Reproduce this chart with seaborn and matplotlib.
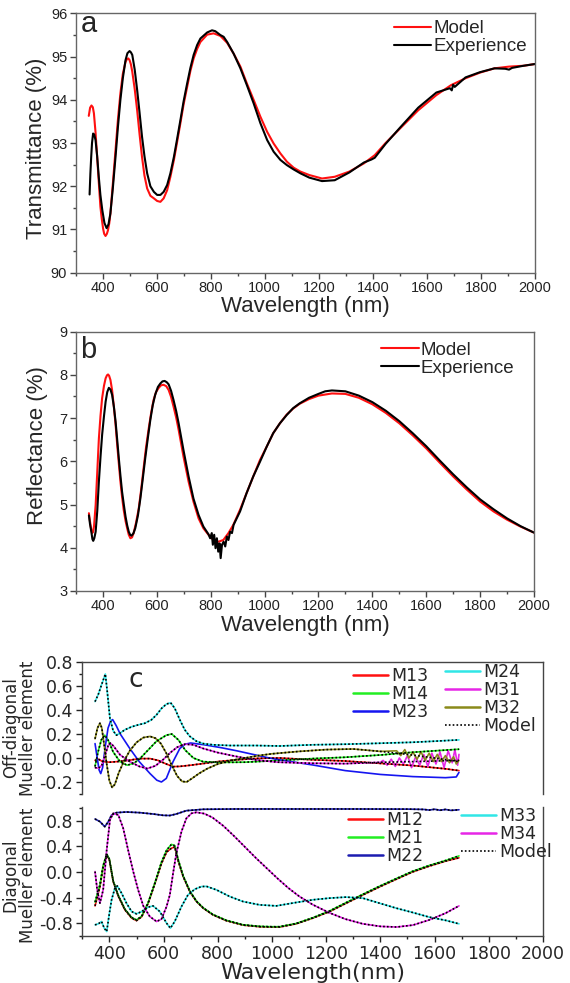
import matplotlib
matplotlib.use("Agg")
import matplotlib.pyplot as plt
from matplotlib.ticker import MultipleLocator, FixedLocator, FormatStrFormatter
from matplotlib.lines import Line2D
import pandas as pd
import seaborn as sns

# ---------------- panel a : transmittance ----------------
a_model_wl = [349, 354, 359, 364, 368, 374, 380, 386, 392, 397, 402, 406, 411, 416, 420, 425, 429, 438, 448, 457,
              466, 475, 485, 490, 495, 500, 505, 510, 519, 528, 537, 546, 555, 565, 577, 590, 602, 614, 626, 639,
              651, 664, 676, 688, 700, 713, 725, 737, 750, 762, 787, 811, 836, 861, 885, 910, 934, 959, 984, 1009,
              1033, 1058, 1082, 1107, 1132, 1165, 1212, 1259, 1313, 1367, 1407, 1447, 1501, 1568, 1635, 1689,
              1743, 1796, 1850, 1904, 1958, 2000]
a_model_T = [93.63, 93.82, 93.87, 93.83, 93.69, 93.25, 92.68, 92.10, 91.53, 91.25, 91.02, 90.90, 90.85, 90.90,
             90.98, 91.15, 91.37, 92.05, 92.84, 93.55, 94.15, 94.60, 94.88, 94.94, 94.96, 94.92, 94.82, 94.65,
             94.25, 93.76, 93.20, 92.68, 92.25, 91.95, 91.78, 91.72, 91.66, 91.64, 91.72, 91.91, 92.22, 92.61,
             93.03, 93.46, 93.90, 94.30, 94.67, 94.96, 95.18, 95.34, 95.51, 95.54, 95.48, 95.32, 95.07, 94.77,
             94.38, 94.0, 93.61, 93.26, 92.99, 92.76, 92.57, 92.43, 92.34, 92.26, 92.18, 92.22, 92.34, 92.53,
             92.72, 93.0, 93.34, 93.76, 94.11, 94.34, 94.5, 94.63, 94.73, 94.77, 94.79, 94.83]
a_exp_wl = [352, 355, 358, 361, 365, 369, 374, 380, 386, 392, 399, 407, 415, 422, 429, 438, 448, 457, 466, 475, 485,
            492, 500, 505, 510, 519, 528, 537, 546, 555, 565, 577, 590, 602, 614, 626, 639, 651, 664, 676, 688, 700,
            713, 725, 737, 750, 762, 787, 805, 817, 836, 848, 861, 885, 910, 934, 959, 984, 1009, 1033, 1058, 1082,
            1107, 1132, 1165, 1212, 1259, 1313, 1367, 1395, 1407, 1447, 1501, 1568, 1635, 1685, 1692, 1697, 1703,
            1743, 1796, 1850, 1890, 1904, 1915, 1958, 2000]
a_exp_T = [91.81, 92.30, 92.68, 93.00, 93.22, 93.20, 93.07, 92.70, 92.22, 91.80, 91.45, 91.15, 91.03, 91.12, 91.37,
           91.95, 92.68, 93.38, 94.00, 94.50, 94.92, 95.08, 95.13, 95.10, 95.04, 94.70, 94.23, 93.70, 93.15, 92.70,
           92.30, 92.00, 91.87, 91.80, 91.80, 91.87, 92.03, 92.30, 92.68, 93.10, 93.53, 93.97, 94.38, 94.74, 95.04,
           95.27, 95.42, 95.56, 95.61, 95.59, 95.50, 95.46, 95.34, 95.07, 94.73, 94.34, 93.92, 93.46, 93.07, 92.80,
           92.61, 92.49, 92.39, 92.30, 92.20, 92.12, 92.14, 92.32, 92.55, 92.62, 92.66, 92.98, 93.36, 93.82, 94.17,
           94.27, 94.22, 94.35, 94.30, 94.52, 94.64, 94.73, 94.72, 94.70, 94.74, 94.79, 94.83]

# ---------------- panel b : reflectance ----------------
b_model_wl = [348, 351, 354, 357, 360, 363, 367, 373, 379, 385, 391, 397, 404, 410, 415, 419, 423, 428, 434, 440,
              447, 453, 459, 465, 471, 477, 484, 490, 496, 502, 508, 514, 523, 533, 542, 551, 560, 570, 579, 588,
              597, 607, 616, 625, 635, 644, 653, 662, 672, 681, 699, 718, 736, 755, 773, 792, 810, 829, 847, 866,
              884, 909, 933, 958, 983, 1008, 1032, 1057, 1082, 1106, 1130, 1165, 1200, 1250, 1300, 1350, 1400,
              1450, 1500, 1550, 1600, 1650, 1700, 1750, 1800, 1850, 1900, 1950, 2000]
b_model_R = [4.80, 4.65, 4.53, 4.40, 4.34, 4.36, 4.50, 4.99, 5.75, 6.53, 7.05, 7.46, 7.75, 7.92, 7.99, 8.01, 7.98,
             7.88, 7.65, 7.30, 6.85, 6.38, 5.95, 5.53, 5.18, 4.88, 4.62, 4.45, 4.30, 4.22, 4.24, 4.34, 4.58, 4.91,
             5.35, 5.84, 6.32, 6.76, 7.12, 7.42, 7.60, 7.70, 7.76, 7.77, 7.74, 7.65, 7.49, 7.27, 7.01, 6.73, 6.11,
             5.53, 5.07, 4.68, 4.45, 4.30, 4.18, 4.14, 4.18, 4.34, 4.53, 4.88, 5.26, 5.65, 6.03, 6.34, 6.65, 6.88,
             7.08, 7.22, 7.33, 7.44, 7.52, 7.57, 7.56, 7.47, 7.32, 7.12, 6.88, 6.60, 6.30, 5.97, 5.65, 5.35, 5.07,
             4.84, 4.65, 4.49, 4.35]
b_exp_wl = [348, 352, 357, 361, 364, 368, 373, 379, 385, 391, 397, 404, 410, 416, 422, 428, 434, 441, 447, 453, 459,
            465, 471, 478, 484, 490, 496, 501, 506, 513, 520, 530, 539, 548, 557, 567, 576, 585, 594, 604, 613, 621,
            629, 637, 644, 653, 662, 672, 681, 699, 718, 736, 755, 773, 792, 798, 804, 808, 813, 818, 823, 828, 833,
            837, 842, 848, 854, 860, 866, 872, 879, 885, 909, 933, 958, 983, 1008, 1032, 1057, 1082, 1106, 1130,
            1165, 1200, 1225, 1250, 1275, 1300, 1350, 1400, 1450, 1500, 1550, 1600, 1650, 1700, 1750, 1800, 1850,
            1900, 1950, 2000]
b_exp_R = [4.75, 4.55, 4.37, 4.20, 4.16, 4.22, 4.37, 4.85, 5.53, 6.10, 6.61, 7.05, 7.38, 7.60, 7.70, 7.66, 7.54,
           7.25, 6.92, 6.50, 6.07, 5.67, 5.30, 4.98, 4.72, 4.52, 4.37, 4.30, 4.28, 4.33, 4.45, 4.75, 5.14, 5.60,
           6.07, 6.55, 6.96, 7.30, 7.54, 7.72, 7.80, 7.85, 7.86, 7.83, 7.78, 7.63, 7.42, 7.16, 6.88, 6.26, 5.65,
           5.14, 4.76, 4.49, 4.31, 4.22, 4.34, 4.07, 4.30, 3.99, 4.22, 3.91, 4.10, 3.76, 4.07, 4.14, 4.03, 4.26,
           4.18, 4.37, 4.34, 4.53, 4.84, 5.26, 5.65, 5.99, 6.34, 6.65, 6.88, 7.07, 7.23, 7.34, 7.47, 7.56, 7.62,
           7.64, 7.63, 7.62, 7.52, 7.37, 7.17, 6.93, 6.65, 6.35, 6.02, 5.70, 5.40, 5.12, 4.89, 4.68, 4.50, 4.35]

# ---------------- panel c : off-diagonal Mueller elements ----------------
m13_wl = [347, 360, 375, 400, 430, 470, 510, 550, 580, 610, 635, 660, 700, 750, 800, 870, 950, 1030, 1150, 1270,
          1400, 1520, 1640, 1690]
m13_v = [-0.02, -0.01, -0.03, -0.035, -0.03, -0.02, -0.005, -0.005, -0.02, -0.05, -0.072, -0.07, -0.06, -0.045,
         -0.03, -0.015, -0.003, 0.0, -0.015, -0.025, -0.045, -0.063, -0.09, -0.105]
m14_wl = [347, 358, 370, 383, 395, 414, 439, 465, 490, 515, 540, 574, 610, 630, 655, 680, 710, 745, 800, 900, 990,
          1070, 1150, 1270, 1400, 1520, 1690]
m14_v = [-0.07, 0.05, 0.15, 0.19, 0.15, 0.05, -0.03, -0.06, -0.045, 0.0, 0.06, 0.14, 0.19, 0.2, 0.15, 0.065, 0.0,
         -0.03, -0.037, -0.035, -0.025, -0.015, -0.005, 0.006, 0.025, 0.048, 0.073]
m23_wl = [347, 355, 362, 368, 375, 385, 395, 405, 412, 425, 440, 475, 510, 550, 575, 592, 610, 635, 660, 680, 700,
          750, 810, 870, 930, 990, 1030, 1150, 1270, 1400, 1520, 1640, 1680, 1690]
m23_v = [0.12, 0.0, -0.1, -0.13, -0.08, 0.1, 0.25, 0.31, 0.32, 0.27, 0.2, 0.08, -0.03, -0.13, -0.185, -0.2, -0.17,
         -0.03, 0.08, 0.115, 0.125, 0.11, 0.087, 0.06, 0.03, 0.0, -0.016, -0.058, -0.105, -0.137, -0.155, -0.164,
         -0.158, -0.12]
m24_wl = [347, 359, 371, 385, 392, 402, 414, 426, 439, 457, 482, 506, 531, 555, 574, 593, 611, 626, 641, 660, 678,
          697, 721, 746, 782, 844, 942, 1028, 1150, 1273, 1400, 1519, 1600, 1690]
m24_v = [0.47, 0.53, 0.61, 0.70, 0.555, 0.33, 0.226, 0.19, 0.207, 0.235, 0.26, 0.276, 0.29, 0.318, 0.36, 0.415,
         0.45, 0.46, 0.415, 0.318, 0.235, 0.18, 0.14, 0.12, 0.11, 0.104, 0.104, 0.10, 0.11, 0.115, 0.123, 0.131,
         0.14, 0.151]
m31_wl = [347, 360, 372, 385, 395, 403, 415, 440, 475, 510, 540, 570, 600, 625, 650, 678, 710, 745, 800, 870, 940,
          1020, 1150, 1270, 1400, 1520, 1690]
m31_v = [-0.08, -0.085, -0.06, 0.03, 0.1, 0.125, 0.1, 0.025, -0.03, -0.07, -0.088, -0.065, -0.01, 0.045, 0.09,
         0.115, 0.11, 0.08, 0.045, 0.012, -0.016, -0.035, -0.044, -0.047, -0.036, -0.03, -0.02]
m31_noise_wl = [1410, 1425, 1440, 1455, 1470, 1485, 1500, 1515, 1530, 1545, 1560, 1575, 1590, 1605, 1620, 1635,
                1650, 1665, 1675, 1685, 1690]
m31_noise_v = [-0.02, -0.06, -0.01, -0.07, 0.0, -0.05, 0.02, -0.08, 0.01, -0.06, 0.03, -0.07, 0.04, -0.05, 0.05,
               -0.08, 0.06, -0.04, 0.07, -0.06, 0.03]
m32_wl = [347, 356, 365, 372, 380, 390, 400, 410, 420, 435, 455, 475, 500, 525, 550, 570, 590, 610, 630, 650, 668,
          685, 705, 730, 760, 800, 850, 900, 950, 1000, 1100, 1200, 1300, 1400, 1500, 1600, 1690]
m32_v = [0.16, 0.25, 0.29, 0.25, 0.12, -0.05, -0.19, -0.245, -0.22, -0.12, -0.02, 0.06, 0.13, 0.17, 0.18, 0.165,
         0.12, 0.04, -0.06, -0.15, -0.195, -0.2, -0.17, -0.13, -0.09, -0.05, -0.02, 0.0, 0.02, 0.035, 0.055, 0.07,
         0.075, 0.055, 0.03, 0.0, -0.03]
m32_noise_wl = [1460, 1475, 1490, 1505, 1520, 1535, 1550, 1565, 1580, 1595, 1610, 1625, 1640, 1655, 1670, 1680, 1690]
m32_noise_v = [0.06, 0.02, 0.07, 0.0, 0.05, -0.01, 0.05, -0.02, 0.04, -0.03, 0.03, -0.03, 0.02, -0.04, 0.01, -0.05,
               -0.02]

# ---------------- panel c : diagonal Mueller elements ----------------
m12_wl = [347, 365, 377, 390, 400, 414, 433, 457, 482, 500, 519, 543, 568, 592, 611, 629, 641, 654, 672, 697, 721,
          746, 782, 831, 893, 954, 1000, 1028, 1089, 1151, 1212, 1273, 1335, 1396, 1458, 1519, 1580, 1642, 1690]
m12_v = [-0.53, -0.23, 0.083, 0.265, 0.187, -0.15, -0.38, -0.59, -0.72, -0.76, -0.70, -0.49, -0.18, 0.13, 0.31,
         0.37, 0.39, 0.17, -0.07, -0.31, -0.46, -0.565, -0.67, -0.76, -0.83, -0.855, -0.86, -0.86, -0.81, -0.72,
         -0.62, -0.49, -0.36, -0.235, -0.115, 0.0, 0.09, 0.17, 0.22]
m21_wl = m12_wl
m21_v = [-0.47, -0.2, 0.1, 0.28, 0.2, -0.14, -0.37, -0.58, -0.71, -0.75, -0.69, -0.48, -0.17, 0.15, 0.34, 0.43,
         0.41, 0.19, -0.06, -0.3, -0.455, -0.56, -0.665, -0.755, -0.825, -0.85, -0.855, -0.855, -0.805, -0.715,
         -0.61, -0.48, -0.35, -0.225, -0.105, 0.01, 0.1, 0.18, 0.25]
m22_wl = [347, 365, 383, 396, 408, 426, 463, 512, 561, 598, 623, 647, 684, 746, 868, 1065, 1300, 1500, 1560, 1580,
          1600, 1620, 1640, 1660, 1690]
m22_v = [0.826, 0.785, 0.706, 0.785, 0.888, 0.925, 0.935, 0.925, 0.904, 0.883, 0.88, 0.904, 0.956, 0.977, 0.982,
         0.982, 0.982, 0.98, 0.975, 0.965, 0.978, 0.962, 0.975, 0.96, 0.97]
m33_wl = [347, 359, 371, 381, 390, 400, 408, 420, 429, 445, 463, 482, 500, 519, 543, 561, 586, 611, 625, 641, 666,
          690, 715, 739, 758, 795, 844, 893, 954, 1016, 1089, 1151, 1212, 1273, 1335, 1396, 1458, 1519, 1580, 1642,
          1690]
m33_v = [-0.826, -0.81, -0.774, -0.878, -0.93, -0.644, -0.436, -0.255, -0.218, -0.332, -0.488, -0.618, -0.655,
         -0.618, -0.55, -0.53, -0.618, -0.8, -0.878, -0.774, -0.54, -0.358, -0.27, -0.229, -0.225, -0.28, -0.384,
         -0.462, -0.514, -0.53, -0.477, -0.435, -0.409, -0.393, -0.409, -0.487, -0.565, -0.633, -0.705, -0.757,
         -0.81]
m34_wl = [347, 355, 365, 377, 390, 402, 414, 433, 451, 469, 488, 506, 525, 549, 574, 592, 611, 623, 635, 647, 666,
          684, 703, 721, 750, 780, 820, 860, 900, 940, 980, 1020, 1060, 1100, 1150, 1210, 1270, 1335, 1400, 1460,
          1520, 1580, 1640, 1690]
m34_v = [0.005, -0.28, -0.488, -0.28, 0.343, 0.81, 0.914, 0.888, 0.68, 0.343, 0.005, -0.28, -0.53, -0.696, -0.774,
         -0.737, -0.54, -0.358, -0.02, 0.29, 0.63, 0.836, 0.914, 0.93, 0.91, 0.85, 0.72, 0.56, 0.39, 0.22, 0.06,
         -0.1, -0.25, -0.38, -0.51, -0.635, -0.735, -0.81, -0.85, -0.86, -0.83, -0.75, -0.645, -0.53]

x_ticks = [400, 600, 800, 1000, 1200, 1400, 1600, 1800, 2000]
a_yticks = [90, 91, 92, 93, 94, 95, 96]
b_yticks = [3, 4, 5, 6, 7, 8, 9]
cu_yticks = [-0.2, 0.0, 0.2, 0.4, 0.6, 0.8]
cl_yticks = [-0.8, -0.4, 0.0, 0.4, 0.8]

# ---------------- style ----------------
sns.set_theme(style="ticks")
plt.rcParams['font.family'] = ['Liberation Sans', 'DejaVu Sans']
plt.rcParams['axes.unicode_minus'] = False
plt.rcParams['axes.linewidth'] = 1.0

C_RED = '#ff1010'
C_GREEN = '#22ee22'
C_BLUE = '#1515f0'
C_NAVY = '#1c1cb0'
C_CYAN = '#30e6e6'
C_MAG = '#e626e6'
C_OLIVE = '#8a8a1a'
DOT = (0, (1, 1.3))

fig = plt.figure(figsize=(5.70, 9.83), dpi=100)


def draw(ax, wl, val, **kw):
    df = pd.DataFrame({'wl': wl, 'val': val})
    sns.lineplot(data=df, x='wl', y='val', ax=ax, sort=False, estimator=None, legend=False, **kw)


def style_ab(ax, yticks, ylabel, letter, ylab_y, letter_xy):
    ax.set_xlim(300, 2000)
    ax.set_ylim(yticks[0], yticks[-1])
    ax.xaxis.set_major_locator(FixedLocator(x_ticks))
    ax.xaxis.set_minor_locator(MultipleLocator(100))
    ax.yaxis.set_major_locator(FixedLocator(yticks))
    ax.yaxis.set_minor_locator(MultipleLocator(0.5))
    ax.tick_params(which='both', direction='out', top=False, right=False, color='#444444')
    ax.tick_params(which='major', length=4.5, width=1.0, labelsize=10.5, labelcolor='#222222', pad=1.5)
    ax.tick_params(which='minor', length=2.5, width=1.0)
    for s in ax.spines.values():
        s.set_color('#666666')
    ax.set_xlabel('Wavelength (nm)', fontsize=16, labelpad=1)
    ax.set_ylabel(ylabel, fontsize=16)
    ax.yaxis.set_label_coords(-0.062, ylab_y)
    ax.text(letter_xy[0], letter_xy[1], letter, transform=ax.transAxes, fontsize=21, va='baseline', ha='left')


ha = [Line2D([], [], color=C_RED, lw=1.5), Line2D([], [], color='black', lw=1.5)]
ab_leg = dict(loc='upper left', frameon=False, fontsize=13.5, handlelength=2.0, handletextpad=0.1,
              labelspacing=0.05, borderpad=0, borderaxespad=0)

# panel a
ax_a = fig.add_axes([0.1325, 0.7226, 0.8061, 0.2637])
draw(ax_a, a_model_wl, a_model_T, color=C_RED, lw=1.5)
draw(ax_a, a_exp_wl, a_exp_T, color='black', lw=1.5)
style_ab(ax_a, a_yticks, 'Transmittance (%)', 'a', 0.48, (0.012, 0.928))
ax_a.legend(ha, ['Model', 'Experience'], bbox_to_anchor=(0.693, 0.975), **ab_leg)

# panel b
ax_b = fig.add_axes([0.1333, 0.3988, 0.8035, 0.2638])
draw(ax_b, b_model_wl, b_model_R, color=C_RED, lw=1.5)
draw(ax_b, b_exp_wl, b_exp_R, color='black', lw=1.5)
style_ab(ax_b, b_yticks, 'Reflectance (%)', 'b', 0.56, (0.008, 0.899))
ax_b.legend(ha, ['Model', 'Experience'], bbox_to_anchor=(0.667, 0.962), **ab_leg)

# panel c
ax_cu = fig.add_axes([0.1444, 0.19227, 0.8082, 0.13428])
ax_cl = fig.add_axes([0.1444, 0.04781, 0.8082, 0.13123])

LW = 1.2
draw(ax_cu, m13_wl, m13_v, color=C_RED, lw=LW)
draw(ax_cu, m14_wl, m14_v, color=C_GREEN, lw=LW)
draw(ax_cu, m23_wl, m23_v, color=C_BLUE, lw=LW)
draw(ax_cu, m24_wl, m24_v, color=C_CYAN, lw=LW)
m31_exp_wl = [w for w in m31_wl if w < m31_noise_wl[0]] + m31_noise_wl
m31_exp_v = [v for w, v in zip(m31_wl, m31_v) if w < m31_noise_wl[0]] + m31_noise_v
m32_exp_wl = [w for w in m32_wl if w < m32_noise_wl[0]] + m32_noise_wl
m32_exp_v = [v for w, v in zip(m32_wl, m32_v) if w < m32_noise_wl[0]] + m32_noise_v
draw(ax_cu, m31_exp_wl, m31_exp_v, color=C_MAG, lw=LW)
draw(ax_cu, m32_exp_wl, m32_exp_v, color=C_OLIVE, lw=LW)
for wl, v in [(m13_wl, m13_v), (m14_wl, m14_v), (m24_wl, m24_v), (m31_wl, m31_v), (m32_wl, m32_v)]:
    draw(ax_cu, wl, v, color='black', lw=1.2, linestyle=DOT)

draw(ax_cl, m12_wl, m12_v, color=C_RED, lw=LW)
draw(ax_cl, m21_wl, m21_v, color=C_GREEN, lw=LW)
draw(ax_cl, m22_wl, m22_v, color=C_NAVY, lw=LW)
draw(ax_cl, m33_wl, m33_v, color=C_CYAN, lw=LW)
draw(ax_cl, m34_wl, m34_v, color=C_MAG, lw=LW)
for wl, v in [(m12_wl, m12_v), (m21_wl, m21_v), (m22_wl, m22_v), (m33_wl, m33_v), (m34_wl, m34_v)]:
    draw(ax_cl, wl, v, color='black', lw=1.2, linestyle=DOT)

CFONT = ['DejaVu Sans']
for ax in (ax_cu, ax_cl):
    ax.set_xlim(300, 2000)
    ax.xaxis.set_major_locator(FixedLocator(x_ticks))
    ax.xaxis.set_minor_locator(MultipleLocator(100))
    ax.tick_params(which='both', direction='out', right=False, top=False, color='#222222')
    ax.tick_params(which='major', length=4, width=1.0, labelsize=12.5, pad=2.5)
    ax.tick_params(which='minor', length=2.5, width=1.0)
    for s in ax.spines.values():
        s.set_color('#444444')

ax_cu.set_ylim(-0.3, 0.8)
ax_cu.yaxis.set_major_locator(FixedLocator(cu_yticks))
ax_cu.yaxis.set_minor_locator(MultipleLocator(0.1))
ax_cu.yaxis.set_major_formatter(FormatStrFormatter('%.1f'))
ax_cu.spines['bottom'].set_visible(False)
ax_cu.tick_params(which='both', bottom=False, labelbottom=False)
ax_cu.set_xlabel('')
ax_cu.set_ylabel('Off-diagonal\nMueller element', fontsize=12, family=CFONT, linespacing=0.95)
ax_cu.yaxis.set_label_coords(-0.098, 0.5)
ax_cu.text(0.10, 0.813, 'c', transform=ax_cu.transAxes, fontsize=19, family=CFONT, va='baseline')

ax_cl.set_ylim(-1.0, 1.013)
ax_cl.yaxis.set_major_locator(FixedLocator(cl_yticks))
ax_cl.yaxis.set_minor_locator(MultipleLocator(0.2))
ax_cl.yaxis.set_major_formatter(FormatStrFormatter('%.1f'))
ax_cl.spines['top'].set_visible(False)
ax_cl.set_xlabel('Wavelength(nm)', fontsize=16, family=CFONT, labelpad=0)
ax_cl.set_ylabel('Diagonal\nMueller element', fontsize=12, family=CFONT, linespacing=0.95)
ax_cl.yaxis.set_label_coords(-0.098, 0.47)
for ax in (ax_cu, ax_cl):
    for lab in ax.get_xticklabels() + ax.get_yticklabels():
        lab.set_family(CFONT)

leg_kw = dict(loc='upper left', frameon=False, handlelength=2.0, handletextpad=0.2, labelspacing=0.0,
              borderpad=0, borderaxespad=0, prop={'family': CFONT, 'size': 12.5})


def h(c):
    return Line2D([], [], color=c, lw=1.8)


hdot = Line2D([], [], color='black', lw=1.2, linestyle=DOT)
l1 = ax_cu.legend([h(C_RED), h(C_GREEN), h(C_BLUE)], ['M13', 'M14', 'M23'], bbox_to_anchor=(0.5876, 0.965), **leg_kw)
ax_cu.add_artist(l1)
ax_cu.legend([h(C_CYAN), h(C_MAG), h(C_OLIVE), hdot], ['M24', 'M31', 'M32', 'Model'],
             bbox_to_anchor=(0.787, 0.99), **leg_kw)
l3 = ax_cl.legend([h(C_RED), h(C_GREEN), h(C_NAVY)], ['M12', 'M21', 'M22'], bbox_to_anchor=(0.577, 0.972), **leg_kw)
ax_cl.add_artist(l3)
ax_cl.legend([h(C_CYAN), h(C_MAG), hdot], ['M33', 'M34', 'Model'], bbox_to_anchor=(0.823, 1.003), **leg_kw)

fig.savefig('out.png', dpi=100)
